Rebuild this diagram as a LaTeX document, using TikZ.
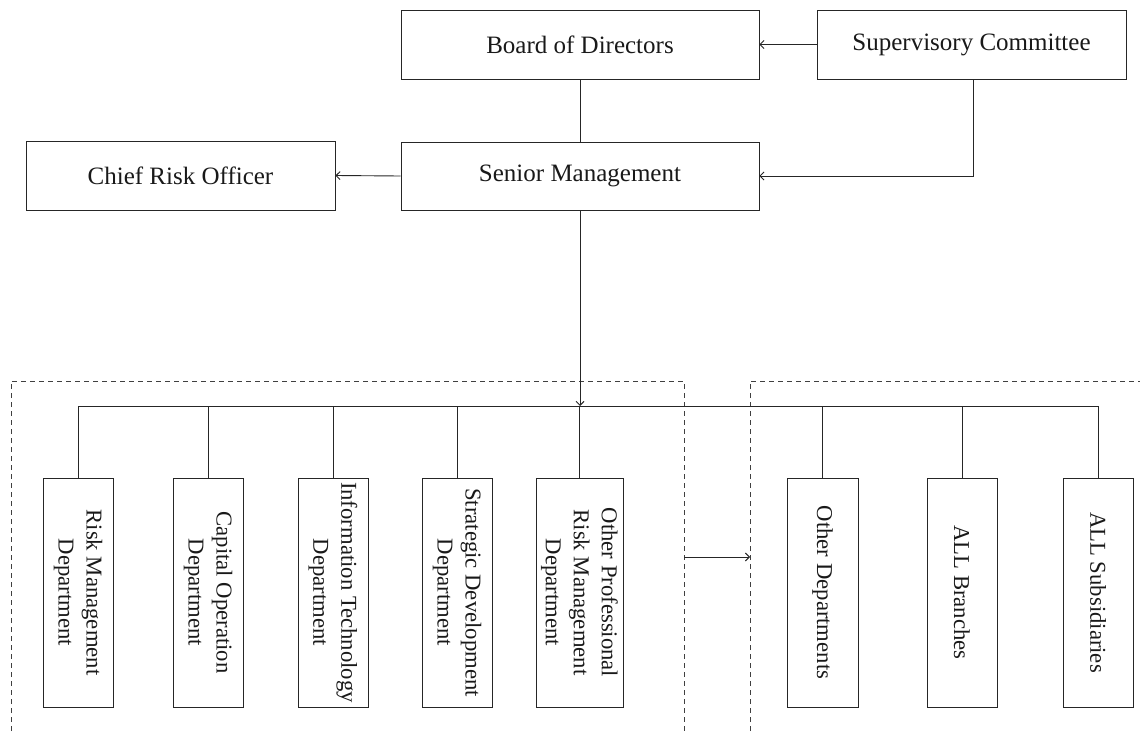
\documentclass[tikz,border=0pt]{standalone}
\usepackage{fontspec}
\setmainfont{Liberation Serif}
\usetikzlibrary{arrows.meta}
\tikzset{
  hbox/.style={draw=black!85, line width=0.9pt, inner sep=0pt, minimum height=69pt,
    font=\fontsize{25}{30}\selectfont, text=black!90},
  vbox/.style={draw=black!85, line width=0.9pt, inner sep=0pt, rotate=-90, align=center,
    minimum width=229pt, font=\fontsize{22.7}{28}\selectfont, text=black!90},
  conn/.style={draw=black!85, line width=0.9pt},
  arr/.style={conn, -{Straight Barb[length=4pt,width=8pt]}},
  region/.style={draw=black!75, line width=0.9pt, dash pattern=on 5pt off 4pt}
}
\begin{document}
\begin{tikzpicture}[x=1pt,y=-1pt]
\useasboundingbox (0,0) rectangle (1140,731);
% top boxes
\node[hbox, minimum width=358pt] (bod) at (580,44.5) {Board of Directors};
\node[hbox, minimum width=309pt] (sc) at (971.5,44.5) {Supervisory Committee};
\node[hbox, minimum width=358pt, minimum height=68pt] (sm) at (580,176) {Senior Management};
\node[hbox, minimum width=309pt] (cro) at (180.5,175.5) {Chief Risk Officer};
% dashed regions
\draw[region] (11,731) -- (11,381) -- (684,381) -- (684,731);
\draw[region] (750,731) -- (750,381) -- (1140,381);
% vertical boxes
\node[vbox, minimum height=70pt] (rm) at (78,592.5) {Risk Management\\Department};
\node[vbox, minimum height=70pt] (co) at (208,592.5) {Capital Operation\\Department};
\node[vbox, minimum height=70pt] (it) at (333,592.5) {Information Technology\\Department};
\node[vbox, minimum height=70pt] (sd) at (457,592.5) {Strategic Development\\Department};
\node[vbox, minimum height=87pt] (op) at (579.5,592.5) {Other Professional\\Risk Management\\Department};
\node[vbox, minimum height=71pt] (od) at (822.5,592.5) {Other Departments};
\node[vbox, minimum height=70pt] (br) at (962,592.5) {ALL Branches};
\node[vbox, minimum height=70pt] (su) at (1098,592.5) {ALL Subsidiaries};
% bus
\coordinate (bus) at (78,406);
\draw[conn] (rm.west |- bus) -- (su.west |- bus);
\foreach \b in {rm,co,it,sd,op,od,br,su}{
  \draw[conn] (\b.west) -- (\b.west |- bus);
}
% connectors
\draw[conn] (bod.south) -- (sm.north);
\draw[arr] (sc.west) -- (bod.east);
\draw[arr] (sc.south -| 973,0) |- (sm.east);
\draw[arr] (sm.west) -- (cro.east);
\draw[arr] (sm.south) -- (sm.south |- bus);
\coordinate (ga) at (684,557);
\coordinate (gb) at (750,557);
\draw[arr] (ga) -- (gb);
\end{tikzpicture}
\end{document}
